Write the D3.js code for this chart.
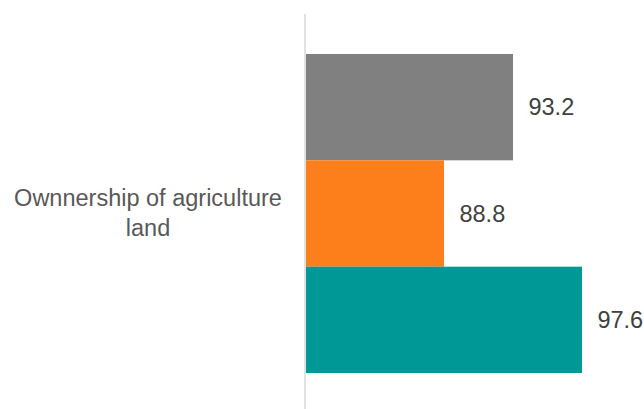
<!DOCTYPE html>
<html>
<head>
<meta charset="utf-8">
<script src="https://cdn.jsdelivr.net/npm/d3@7"></script>
<style>
  html, body { margin: 0; padding: 0; background: #fff; }
  svg { display: block; font-family: "Liberation Sans", Arial, sans-serif; }
</style>
</head>
<body>
<svg id="chart" width="644" height="409"></svg>
<script>
// Chart data
const category = "Ownnership of agriculture land";
const categoryLines = ["Ownnership of agriculture", "land"];
const seriesNames = ["Series A", "Series B", "Series C"];
const seriesValues = [93.2, 88.8, 97.6];
const seriesColors = ["#808080", "#fc7f1b", "#009896"];
const axisDomain = [80, 100];

const svg = d3.select("#chart");

const plot = { left: 306, right: 619.6, top: 14, bottom: 409 };

const x = d3.scaleLinear().domain(axisDomain).range([plot.left, plot.right]);

// One band per series inside the single category slot
const yBar = d3.scaleBand().domain(seriesNames).range([54, 373]).padding(0);

const rows = seriesNames.map((name, i) => ({ name, value: seriesValues[i], color: seriesColors[i] }));

// Bars
svg.append("g")
  .selectAll("rect")
  .data(rows)
  .join("rect")
  .attr("x", x(axisDomain[0]))
  .attr("y", d => yBar(d.name))
  .attr("width", d => x(d.value) - x(axisDomain[0]))
  .attr("height", yBar.bandwidth())
  .attr("fill", d => d.color);

// Value labels
svg.append("g")
  .selectAll("text")
  .data(rows)
  .join("text")
  .attr("x", d => x(d.value) + 15.5)
  .attr("y", d => yBar(d.name) + yBar.bandwidth() / 2)
  .attr("dy", "0.35em")
  .attr("font-size", 23.5)
  .attr("fill", "#404040")
  .text(d => d.value.toFixed(1));

// Vertical category axis line
svg.append("line")
  .attr("x1", plot.left - 1).attr("x2", plot.left - 1)
  .attr("y1", plot.top).attr("y2", plot.bottom)
  .attr("stroke", "#d9d9d9")
  .attr("stroke-width", 1.5);

// Category label (two lines, centred)
const catText = svg.append("text")
  .attr("text-anchor", "middle")
  .attr("font-size", 23.5)
  .attr("fill", "#595959");
categoryLines.forEach((line, i) => {
  catText.append("tspan")
    .attr("x", 148)
    .attr("y", 206 + i * 29.5)
    .text(line);
});
</script>
</body>
</html>
